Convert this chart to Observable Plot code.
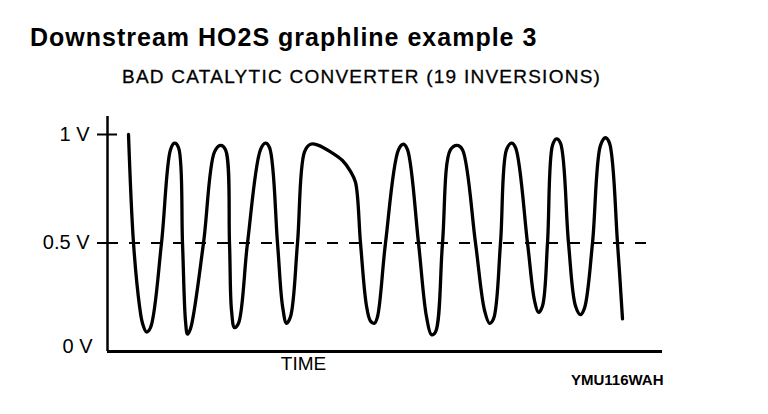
<!DOCTYPE html>
<html>
<head>
<meta charset="utf-8">
<script src="https://cdn.jsdelivr.net/npm/d3@7"></script>
<script src="https://cdn.jsdelivr.net/npm/@observablehq/plot@0.6"></script>
<style>
  html, body { margin: 0; padding: 0; background: #fff; }
  #wrap { position: relative; width: 768px; height: 414px; overflow: hidden; background: #fff; }
  #wrap svg { position: absolute; left: 0; top: 0; }
  .title { position: absolute; left: 30px; top: 25px; font: bold 25px/25px "Liberation Sans", Arial, sans-serif; letter-spacing: 1px; color: #000; white-space: nowrap; }
  .subtitle { position: absolute; left: 122px; top: 67px; font: 19px/19px "Liberation Sans", Arial, sans-serif; letter-spacing: 1.25px; color: #000; white-space: nowrap; -webkit-text-stroke: 0.3px #000; }
  .code { position: absolute; left: 571px; top: 372px; font: bold 15px/15px "Liberation Sans", Arial, sans-serif; color: #000; white-space: nowrap; }
</style>
</head>
<body>
<div id="wrap">
  <div class="title">Downstream HO2S graphline example 3</div>
  <div class="subtitle">BAD CATALYTIC CONVERTER (19 INVERSIONS)</div>
  <div class="code">YMU116WAH</div>
</div>
<script>
// Sensor trace: time (arbitrary units) and voltage (V)
const time = [21,26,32,35,39,43,54,63,67,71,75,78,80,83,96,107,113,118,122,124,127,131,140,153,158,162,170,175,179,183,190,197,203,211,223,235,243,248,253,259,263,267,270,278,291,296,300,311,319,324,328,335,343,350,355,368,377,382,386,393,399,404,408,420,427,431,435,440,445,449,453,461,468,473,477,485,493,498,502,510,515];
const volts = [1.0,0.5,0.21,0.13,0.09,0.11,0.5,0.93,0.96,0.94,0.5,0.14,0.08,0.105,0.5,0.92,0.95,0.93,0.5,0.19,0.11,0.13,0.5,0.93,0.96,0.94,0.5,0.21,0.13,0.16,0.5,0.92,0.955,0.95,0.92,0.88,0.83,0.78,0.5,0.21,0.14,0.13,0.16,0.5,0.93,0.955,0.93,0.5,0.16,0.077,0.09,0.5,0.93,0.95,0.93,0.5,0.19,0.13,0.15,0.5,0.93,0.96,0.94,0.5,0.235,0.18,0.21,0.5,0.95,0.98,0.96,0.5,0.21,0.17,0.20,0.5,0.95,0.985,0.96,0.5,0.15];
const yTicks = [0, 0.5, 1];
const yTickLabels = ["0 V", "0.5 V", "1 V"];
const threshold = [0.5];
const xLabelPos = [196];
const xLabelText = ["TIME"];
const timeDomain = [0, 555];
const dashedExtent = [0, 540];

const trace = time.map((t, i) => ({t, v: volts[i]}));
const yLabel = new Map(yTicks.map((d, i) => [d, yTickLabels[i]]));

const chart = Plot.plot({
  width: 768,
  height: 414,
  marginLeft: 107,
  marginRight: 106,
  marginTop: 116,
  marginBottom: 63,
  style: {fontFamily: "'Liberation Sans', Arial, sans-serif", fontSize: "20px", background: "transparent", color: "#000"},
  x: {domain: timeDomain, axis: null, label: null},
  y: {domain: [0, 1], range: [351, 134], axis: null, label: null},
  marks: [
    Plot.ruleY(threshold, {x1: dashedExtent[0], x2: dashedExtent[1], stroke: "#000", strokeWidth: 2, strokeDasharray: "11,11"}),
    Plot.ruleX([timeDomain[0]], {stroke: "#000", strokeWidth: 2.5}),
    Plot.ruleY([yTicks[0]], {stroke: "#000", strokeWidth: 3}),
    Plot.ruleY([yTicks[2]], {x1: 0, x2: 10, stroke: "#000", strokeWidth: 2}),
    Plot.axisY(yTicks.slice(1), {label: null, tickSize: 10, tickPadding: 8, strokeWidth: 2, tickFormat: d => yLabel.get(d), fontSize: 20, style: {WebkitTextStroke: "0.3px #000"}}),
    Plot.axisY([yTicks[0]], {label: null, tickSize: 0, tickPadding: 15, dy: -5, tickFormat: d => yLabel.get(d), fontSize: 20, style: {WebkitTextStroke: "0.3px #000"}}),
    Plot.axisX(xLabelPos, {label: null, tickSize: 0, tickPadding: 5, tickFormat: (d, i) => xLabelText[i], fontSize: 19, style: {letterSpacing: "2px", WebkitTextStroke: "0.3px #000"}}),
    Plot.line(trace, {x: "t", y: "v", curve: "catmull-rom", stroke: "#000", strokeWidth: 3.3, strokeLinecap: "round", strokeLinejoin: "round"})
  ]
});
document.getElementById("wrap").prepend(chart);
</script>
</body>
</html>
